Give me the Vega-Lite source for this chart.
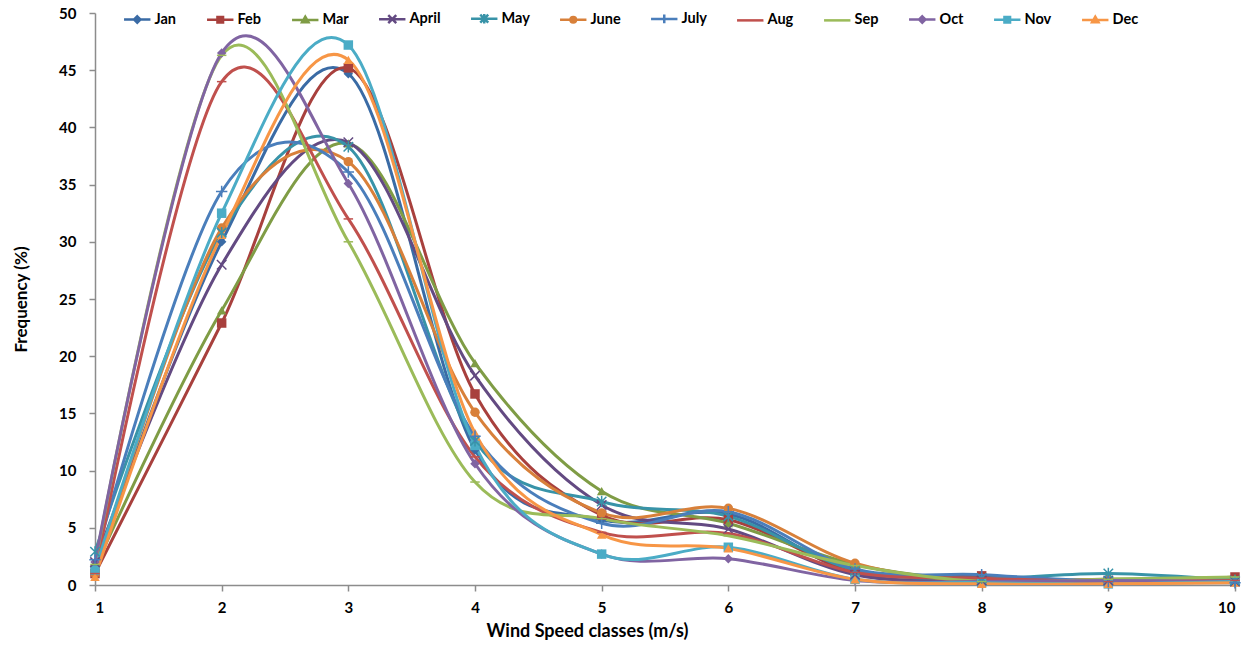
{
  "$schema": "https://vega.github.io/schema/vega-lite/v6.json",
  "width": 1140,
  "height": 572,
  "autosize": {"type": "none"},
  "padding": {"left": 95, "top": 13, "right": 22, "bottom": 69},
  "background": "white",
  "config": {
    "view": {"stroke": null},
    "font": "Lato",
    "axis": {
      "grid": false,
      "domainColor": "#8c8c8c",
      "domainWidth": 1.5,
      "tickColor": "#8c8c8c",
      "tickWidth": 1.5,
      "tickSize": 6,
      "labelFont": "Lato",
      "labelFontSize": 15,
      "labelFontWeight": "bold",
      "labelColor": "#000000",
      "titleFont": "Lato",
      "titleFontWeight": "bold",
      "titleColor": "#000000"
    },
    "legend": {
      "orient": "none",
      "direction": "horizontal",
      "columns": 12,
      "legendX": 35,
      "legendY": -2,
      "padding": 0,
      "symbolSize": 64,
      "symbolStrokeWidth": 2.5,
      "labelOffset": 10,
      "columnPadding": 25,
      "labelFont": "Lato",
      "labelFontSize": 14.5,
      "labelFontWeight": "bold",
      "labelColor": "#000000"
    }
  },
  "data": {
    "values": [
      {"m": "Jan", "x": 1, "y": 1.5}, {"m": "Jan", "x": 2, "y": 30.0}, {"m": "Jan", "x": 3, "y": 44.7}, {"m": "Jan", "x": 4, "y": 11.8}, {"m": "Jan", "x": 5, "y": 5.7},
      {"m": "Jan", "x": 6, "y": 6.2}, {"m": "Jan", "x": 7, "y": 1.0}, {"m": "Jan", "x": 8, "y": 0.5}, {"m": "Jan", "x": 9, "y": 0.3}, {"m": "Jan", "x": 10, "y": 0.4},
      {"m": "Feb", "x": 1, "y": 1.0}, {"m": "Feb", "x": 2, "y": 22.9}, {"m": "Feb", "x": 3, "y": 45.2}, {"m": "Feb", "x": 4, "y": 16.7}, {"m": "Feb", "x": 5, "y": 6.1},
      {"m": "Feb", "x": 6, "y": 5.7}, {"m": "Feb", "x": 7, "y": 1.2}, {"m": "Feb", "x": 8, "y": 0.8}, {"m": "Feb", "x": 9, "y": 0.3}, {"m": "Feb", "x": 10, "y": 0.7},
      {"m": "Mar", "x": 1, "y": 1.5}, {"m": "Mar", "x": 2, "y": 24.0}, {"m": "Mar", "x": 3, "y": 38.6}, {"m": "Mar", "x": 4, "y": 19.4}, {"m": "Mar", "x": 5, "y": 8.2},
      {"m": "Mar", "x": 6, "y": 5.4}, {"m": "Mar", "x": 7, "y": 1.8}, {"m": "Mar", "x": 8, "y": 0.4}, {"m": "Mar", "x": 9, "y": 0.5}, {"m": "Mar", "x": 10, "y": 0.6},
      {"m": "April", "x": 1, "y": 2.0}, {"m": "April", "x": 2, "y": 28.0}, {"m": "April", "x": 3, "y": 38.7}, {"m": "April", "x": 4, "y": 18.3}, {"m": "April", "x": 5, "y": 7.0},
      {"m": "April", "x": 6, "y": 4.9}, {"m": "April", "x": 7, "y": 0.9}, {"m": "April", "x": 8, "y": 0.4}, {"m": "April", "x": 9, "y": 0.4}, {"m": "April", "x": 10, "y": 0.3},
      {"m": "May", "x": 1, "y": 2.9}, {"m": "May", "x": 2, "y": 30.8}, {"m": "May", "x": 3, "y": 38.3}, {"m": "May", "x": 4, "y": 12.6}, {"m": "May", "x": 5, "y": 7.3},
      {"m": "May", "x": 6, "y": 6.0}, {"m": "May", "x": 7, "y": 1.3}, {"m": "May", "x": 8, "y": 0.6}, {"m": "May", "x": 9, "y": 1.0}, {"m": "May", "x": 10, "y": 0.4},
      {"m": "June", "x": 1, "y": 1.0}, {"m": "June", "x": 2, "y": 31.2}, {"m": "June", "x": 3, "y": 37.0}, {"m": "June", "x": 4, "y": 15.1}, {"m": "June", "x": 5, "y": 6.3},
      {"m": "June", "x": 6, "y": 6.7}, {"m": "June", "x": 7, "y": 1.9}, {"m": "June", "x": 8, "y": 0.3}, {"m": "June", "x": 9, "y": 0.5}, {"m": "June", "x": 10, "y": 0.3},
      {"m": "July", "x": 1, "y": 2.2}, {"m": "July", "x": 2, "y": 34.4}, {"m": "July", "x": 3, "y": 36.1}, {"m": "July", "x": 4, "y": 13.0}, {"m": "July", "x": 5, "y": 5.4},
      {"m": "July", "x": 6, "y": 6.4}, {"m": "July", "x": 7, "y": 1.4}, {"m": "July", "x": 8, "y": 0.9}, {"m": "July", "x": 9, "y": 0.3}, {"m": "July", "x": 10, "y": 0.2},
      {"m": "Aug", "x": 1, "y": 1.0}, {"m": "Aug", "x": 2, "y": 44.0}, {"m": "Aug", "x": 3, "y": 32.0}, {"m": "Aug", "x": 4, "y": 11.2}, {"m": "Aug", "x": 5, "y": 4.6},
      {"m": "Aug", "x": 6, "y": 4.5}, {"m": "Aug", "x": 7, "y": 1.1}, {"m": "Aug", "x": 8, "y": 0.6}, {"m": "Aug", "x": 9, "y": 0.3}, {"m": "Aug", "x": 10, "y": 0.4},
      {"m": "Sep", "x": 1, "y": 1.8}, {"m": "Sep", "x": 2, "y": 46.3}, {"m": "Sep", "x": 3, "y": 30.0}, {"m": "Sep", "x": 4, "y": 9.0}, {"m": "Sep", "x": 5, "y": 5.8},
      {"m": "Sep", "x": 6, "y": 4.3}, {"m": "Sep", "x": 7, "y": 1.7}, {"m": "Sep", "x": 8, "y": 0.3}, {"m": "Sep", "x": 9, "y": 0.5}, {"m": "Sep", "x": 10, "y": 0.7},
      {"m": "Oct", "x": 1, "y": 2.0}, {"m": "Oct", "x": 2, "y": 46.5}, {"m": "Oct", "x": 3, "y": 35.1}, {"m": "Oct", "x": 4, "y": 10.6}, {"m": "Oct", "x": 5, "y": 2.7},
      {"m": "Oct", "x": 6, "y": 2.3}, {"m": "Oct", "x": 7, "y": 0.4}, {"m": "Oct", "x": 8, "y": 0.3}, {"m": "Oct", "x": 9, "y": 0.4}, {"m": "Oct", "x": 10, "y": 0.3},
      {"m": "Nov", "x": 1, "y": 1.3}, {"m": "Nov", "x": 2, "y": 32.5}, {"m": "Nov", "x": 3, "y": 47.2}, {"m": "Nov", "x": 4, "y": 12.2}, {"m": "Nov", "x": 5, "y": 2.7},
      {"m": "Nov", "x": 6, "y": 3.3}, {"m": "Nov", "x": 7, "y": 0.5}, {"m": "Nov", "x": 8, "y": 0.2}, {"m": "Nov", "x": 9, "y": 0.1}, {"m": "Nov", "x": 10, "y": 0.3},
      {"m": "Dec", "x": 1, "y": 0.7}, {"m": "Dec", "x": 2, "y": 30.6}, {"m": "Dec", "x": 3, "y": 45.9}, {"m": "Dec", "x": 4, "y": 13.3}, {"m": "Dec", "x": 5, "y": 4.4},
      {"m": "Dec", "x": 6, "y": 3.2}, {"m": "Dec", "x": 7, "y": 0.5}, {"m": "Dec", "x": 8, "y": 0.1}, {"m": "Dec", "x": 9, "y": 0.1}, {"m": "Dec", "x": 10, "y": 0.2}
    ]
  },
  "encoding": {
    "x": {
      "field": "x",
      "type": "quantitative",
      "scale": {"domain": [1, 10], "nice": false, "zero": false},
      "axis": {
        "values": [1, 2, 3, 4, 5, 6, 7, 8, 9, 10],
        "format": "d",
        "labelPadding": 9,
        "title": "Wind Speed classes (m/s)",
        "titleFontSize": 18,
        "titleX": 492,
        "titleY": 46,
        "titleBaseline": "middle"
      }
    },
    "y": {
      "field": "y",
      "type": "quantitative",
      "scale": {"domain": [0, 50], "nice": false},
      "axis": {
        "values": [0, 5, 10, 15, 20, 25, 30, 35, 40, 45, 50],
        "labelPadding": 13,
        "title": "Frequency (%)",
        "titleFontSize": 17,
        "titlePadding": 28
      }
    },
    "color": {
      "field": "m",
      "type": "nominal",
      "scale": {
        "domain": ["Jan", "Feb", "Mar", "April", "May", "June", "July", "Aug", "Sep", "Oct", "Nov", "Dec"],
        "range": ["#3A6BA5", "#A8403D", "#7F9C45", "#634A82", "#3893A8", "#D8803A", "#4A7EBB", "#C0504D", "#9BBB59", "#8064A2", "#4BACC6", "#F79646"]
      },
      "legend": {"title": null}
    }
  },
  "layer": [
    {
      "transform": [{"filter": "datum.x > 100"}],
      "mark": {"type": "point", "filled": false, "strokeWidth": 2.5, "opacity": 1},
      "encoding": {
        "shape": {
          "field": "m",
          "type": "nominal",
          "legend": {"title": null},
          "scale": {
            "domain": ["Jan", "Feb", "Mar", "April", "May", "June", "July", "Aug", "Sep", "Oct", "Nov", "Dec"],
            "range": [
              "M-3.3,0L3.3,0M0,-0.8L0.8,0L0,0.8L-0.8,0Z",
              "M-3.3,0L3.3,0M-0.7,-0.7L0.7,-0.7L0.7,0.7L-0.7,0.7Z",
              "M-3.3,0L3.3,0M0,-0.8L0.8,0.6L-0.8,0.6Z",
              "M-3.3,0L3.3,0M-1,-1L1,1M-1,1L1,-1",
              "M-3.3,0L3.3,0M-1,-1L1,1M-1,1L1,-1M0,-1.2L0,1.2",
              "M-3.3,0L3.3,0M-0.7,0A0.7,0.7,0,1,0,0.7,0A0.7,0.7,0,1,0,-0.7,0Z",
              "M-3.3,0L3.3,0M0,-1.1L0,1.1",
              "M-3.3,0L3.3,0",
              "M-3.3,0L3.3,0",
              "M-3.3,0L3.3,0M0,-0.8L0.8,0L0,0.8L-0.8,0Z",
              "M-3.3,0L3.3,0M-0.7,-0.7L0.7,-0.7L0.7,0.7L-0.7,0.7Z",
              "M-3.3,0L3.3,0M0,-0.8L0.8,0.6L-0.8,0.6Z"
            ]
          }
        }
      }
    },
    {
      "mark": {"type": "line", "interpolate": "cardinal", "strokeWidth": 3, "clip": true}
    },
    {
      "transform": [{"filter": {"field": "m", "oneOf": ["Jan", "Feb", "Mar", "June", "Oct", "Nov", "Dec"]}}],
      "mark": {"type": "point", "filled": true, "size": 90, "opacity": 1},
      "encoding": {
        "shape": {
          "condition": [
            {"test": "datum.m === 'Jan' || datum.m === 'Oct'", "value": "diamond"},
            {"test": "datum.m === 'Feb' || datum.m === 'Nov'", "value": "square"},
            {"test": "datum.m === 'Mar' || datum.m === 'Dec'", "value": "triangle-up"}
          ],
          "value": "circle"
        }
      }
    },
    {
      "transform": [{"filter": {"field": "m", "oneOf": ["April", "May", "July", "Aug", "Sep"]}}],
      "mark": {"type": "point", "filled": false, "size": 90, "strokeWidth": 1.5, "opacity": 1},
      "encoding": {
        "shape": {
          "condition": [
            {"test": "datum.m === 'April'", "value": "M-1,-1L1,1M-1,1L1,-1"},
            {"test": "datum.m === 'May'", "value": "M-1,-1L1,1M-1,1L1,-1M0,-1.2L0,1.2"},
            {"test": "datum.m === 'July'", "value": "M-1.2,0L1.2,0M0,-1.2L0,1.2"}
          ],
          "value": "M-1,0L1,0"
        }
      }
    }
  ]
}
